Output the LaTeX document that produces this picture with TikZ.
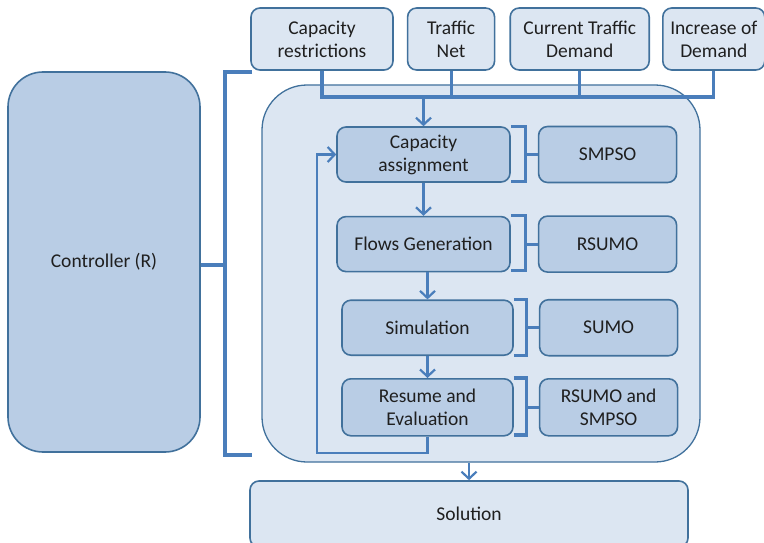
\documentclass[tikz,border=0pt]{standalone}
\usepackage{fontspec}
\setmainfont{Carlito}
\usetikzlibrary{arrows.meta,positioning,calc}
\definecolor{panelfill}{HTML}{DCE6F2}
\definecolor{boxfill}{HTML}{B9CDE5}
\definecolor{boxline}{HTML}{41719C}
\definecolor{linkblue}{HTML}{4A7EBB}
\definecolor{txt}{HTML}{1F1F1F}

\begin{document}
\begin{tikzpicture}[x=1pt, y=-1pt,
  every node/.style={font=\fontsize{19.5}{23}\selectfont, text=txt},
  inbox/.style={draw=boxline, line width=1.6pt, fill=panelfill, rounded corners=9pt,
                align=center, minimum height=62pt, inner sep=2pt},
  stage/.style={draw=boxline, line width=1.6pt, fill=boxfill, rounded corners=9pt,
                align=center, minimum width=173pt, minimum height=55pt, inner sep=2pt},
  tool/.style={stage, minimum width=138pt, minimum height=56pt},
  link/.style={draw=linkblue, line width=3.2pt},
  flow/.style={draw=linkblue, line width=2.2pt, -{Straight Barb[length=7pt, width=15pt]}}
]
  \useasboundingbox (0,0) rectangle (764,543);

  % Controller and the optimisation loop panel
  \node[stage, minimum width=192pt, minimum height=380pt, rounded corners=35pt] (ctrl)
    at (104,262) {Controller (R)};
  \node[draw=boxline, line width=1.3pt, fill=panelfill, rounded corners=45pt,
        minimum width=438pt, minimum height=377pt] (engine) at (481,273.5) {};

  % Inputs
  \node[inbox, minimum width=142pt] (caprest) at (322,39) {Capacity\\restrictions};
  \node[inbox, minimum width=87pt, right=13pt of caprest] (trnet) {Traffic\\Net};
  \node[inbox, minimum width=139pt, right=14pt of trnet] (curdem) {Current Traffic\\Demand};
  \node[inbox, minimum width=102pt, right=12pt of curdem] (incdem) {Increase of\\Demand};

  % Loop stages
  \node[stage] (capasg) at (423.5,154.5) {Capacity\\assignment};
  \node[stage, below=33pt of capasg] (flowgen) {Flows Generation};
  \node[stage, minimum width=171pt, below=27pt of flowgen, xshift=4pt] (simul) {Simulation};
  \node[stage, minimum width=171pt, minimum height=57pt, below=22pt of simul] (resume)
    {Resume and\\Evaluation};

  % Tools used by each stage
  \node[tool, right=27pt of capasg] (smpso) {SMPSO};
  \node[tool, right=27pt of flowgen] (rsumo) {RSUMO};
  \node[tool, right=25pt of simul] (sumo) {SUMO};
  \node[tool, minimum height=57pt, right=25pt of resume] (rsmp) {RSUMO and\\SMPSO};

  % Output
  \node[inbox, minimum width=438pt, minimum height=66pt] (sol) at (469,514) {Solution};

  % Controller brace
  \draw[link] (252,72) -- (225,72) -- (225,455) -- (252,455);
  \draw[link] ([yshift=-3pt]ctrl.east) -- ++(25,0);

  % Inputs bus
  \coordinate (bus) at (423.5,97);
  \draw[link] (caprest.south) |- (bus) -| (incdem.south);
  \draw[link] (trnet.south) -- (trnet.south |- bus);
  \draw[link] (curdem.south) -- (curdem.south |- bus);
  \draw[flow] (bus) -- (capasg.north);

  % Stage to tool braces
  \draw[link] (capasg.north east) -- ++(15,0) -- ++(0,55) -- ++(-15,0);
  \draw[link] (smpso.west) -- ++(-12,0);
  \draw[link] (flowgen.north east) -- ++(15,0) -- ++(0,55) -- ++(-15,0);
  \draw[link] (rsumo.west) -- ++(-12,0);
  \draw[link] (simul.north east) -- ++(13,0) -- ++(0,56) -- ++(-13,0);
  \draw[link] (sumo.west) -- ++(-12,0);
  \draw[link] (resume.north east) -- ++(13,0) -- ++(0,57) -- ++(-13,0);
  \draw[link] (rsmp.west) -- ++(-12,0);

  % Stage sequence
  \draw[flow] (capasg.south) -- (flowgen.north);
  \draw[flow] (simul.north |- flowgen.south) -- (simul.north);
  \draw[flow] (simul.south) -- (resume.north);

  % Feedback loop
  \coordinate (ret) at (317,453);
  \draw[flow] (resume.south) |- (ret) |- (capasg.west);

  % Result
  \draw[flow] (engine.south -| sol.north) -- (sol.north);
\end{tikzpicture}
\end{document}
